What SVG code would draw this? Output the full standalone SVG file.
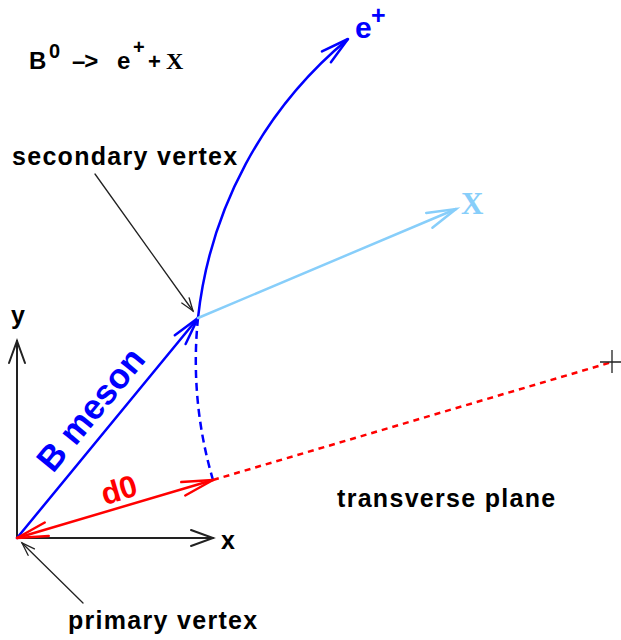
<svg xmlns="http://www.w3.org/2000/svg" width="621" height="640" viewBox="0 0 621 640">
<style>
.lbl{font-family:"Liberation Sans",Arial,sans-serif;font-weight:bold;font-size:25px;letter-spacing:1.3px;fill:#000}
.ser{font-family:"Liberation Serif","Times New Roman",serif}
.ln{fill:none;stroke-linecap:round}
</style>
<defs>
<marker id="hBlue" markerUnits="userSpaceOnUse" markerWidth="40" markerHeight="40" refX="0" refY="0" viewBox="-34 -20 40 40" orient="auto-start-reverse"><path d="M-28,-7 L0,0 L-28,7" fill="none" stroke="#0000ff" stroke-width="2.5" stroke-linecap="round"/></marker>
<marker id="hLight" markerUnits="userSpaceOnUse" markerWidth="40" markerHeight="40" refX="0" refY="0" viewBox="-34 -20 40 40" orient="auto-start-reverse"><path d="M-29,-8 L0,0 L-29,8" fill="none" stroke="#87cefa" stroke-width="2.5" stroke-linecap="round"/></marker>
<marker id="hRed" markerUnits="userSpaceOnUse" markerWidth="40" markerHeight="40" refX="0" refY="0" viewBox="-34 -20 40 40" orient="auto-start-reverse"><path d="M-31,-7 L0,0 L-31,7" fill="none" stroke="#ff0000" stroke-width="2.5" stroke-linecap="round"/></marker>
<marker id="hAxis" markerUnits="userSpaceOnUse" markerWidth="40" markerHeight="40" refX="0" refY="0" viewBox="-34 -20 40 40" orient="auto-start-reverse"><path d="M-22,-8 L0,0 L-22,8" fill="none" stroke="#222" stroke-width="2" stroke-linecap="round"/></marker>
<marker id="hPtr" markerUnits="userSpaceOnUse" markerWidth="30" markerHeight="30" refX="0" refY="0" viewBox="-20 -15 30 30" orient="auto-start-reverse"><path d="M-13,-4.5 L0,0 L-13,4.5" fill="none" stroke="#222" stroke-width="1.3" stroke-linecap="round"/></marker>
</defs>
<rect width="621" height="640" fill="#fff"/>

<g id="connectors">
  <path id="y-axis" class="ln" d="M17,538 L17,341" stroke="#222" stroke-width="2" marker-end="url(#hAxis)"/>
  <path id="x-axis" class="ln" d="M17,538 L213,538" stroke="#222" stroke-width="2" marker-end="url(#hAxis)"/>
  <path id="b-meson" class="ln" d="M17,538 L198,318" stroke="#0000ff" stroke-width="2.5" marker-end="url(#hBlue)"/>
  <path id="e-track" class="ln" d="M198,318 A421,421 0 0 1 348,39" stroke="#0000ff" stroke-width="2.5" marker-end="url(#hBlue)"/>
  <path id="e-extrap" fill="none" d="M198,318 A421,421 0 0 0 213,480" stroke="#0000ff" stroke-width="2.5" stroke-dasharray="8,5"/>
  <path id="x-track" class="ln" d="M198,318 L456,209" stroke="#87cefa" stroke-width="2.5" marker-end="url(#hLight)"/>
  <path id="d0" class="ln" d="M17,538 L213,480" stroke="#ff0000" stroke-width="2.5" marker-start="url(#hRed)" marker-end="url(#hRed)"/>
  <path id="plane" fill="none" d="M213,480 L612,362" stroke="#ff0000" stroke-width="2.5" stroke-dasharray="6,5"/>
  <path id="ptr-secondary" class="ln" d="M95,174 L193,311" stroke="#222" stroke-width="1.3" marker-end="url(#hPtr)"/>
  <path id="ptr-primary" class="ln" d="M83,603 L22,543" stroke="#222" stroke-width="1.3" marker-end="url(#hPtr)"/>
</g>

<g id="cross">
  <path d="M600,362 L621,362 M612,350 L612,373" stroke="#222" stroke-width="1.3" fill="none"/>
</g>

<g id="title">
  <text class="lbl" x="29" y="69" style="font-size:24px;letter-spacing:0">B</text>
  <text class="lbl" x="49" y="58" style="font-size:20px;letter-spacing:0">0</text>
  <text class="lbl" x="72" y="69" style="font-size:24px;letter-spacing:-1px">–&gt;</text>
  <text class="lbl" x="117" y="69" style="font-size:24px;letter-spacing:0">e</text>
  <text class="lbl" x="133" y="54" style="font-size:20px;letter-spacing:0">+</text>
  <text class="lbl" x="148" y="69" style="font-size:22px;letter-spacing:0">+</text>
  <text class="ser" x="166" y="69" style="font-size:24px;font-weight:bold;fill:#000">X</text>
</g>

<g id="e-label">
  <text x="355" y="38" style="font-family:'Liberation Sans',Arial,sans-serif;font-weight:bold;font-size:30px;fill:#0000ff">e</text>
  <text x="371" y="24" style="font-family:'Liberation Sans',Arial,sans-serif;font-weight:bold;font-size:25px;fill:#0000ff">+</text>
</g>

<g id="x-label">
  <text class="ser" x="461" y="214" style="font-weight:bold;font-size:31px;fill:#87cefa">X</text>
</g>

<g id="secondary-vertex">
  <text class="lbl" x="12" y="165">secondary vertex</text>
</g>

<g id="primary-vertex">
  <text class="lbl" x="68" y="629">primary vertex</text>
</g>

<g id="transverse-plane">
  <text class="lbl" x="337" y="507">transverse plane</text>
</g>

<g id="axis-labels">
  <text class="lbl" x="11" y="324">y</text>
  <text class="lbl" x="221" y="549">x</text>
</g>

<g id="b-meson-label">
  <text x="100" y="417" text-anchor="middle" transform="rotate(-50.6 100 417)" style="font-family:'Liberation Sans',Arial,sans-serif;font-weight:bold;font-size:35px;fill:#0000ff">B meson</text>
</g>

<g id="d0-label">
  <text x="122" y="500" text-anchor="middle" transform="rotate(-16.5 122 500)" style="font-family:'Liberation Sans',Arial,sans-serif;font-weight:bold;font-size:31px;fill:#ff0000">d0</text>
</g>
</svg>
